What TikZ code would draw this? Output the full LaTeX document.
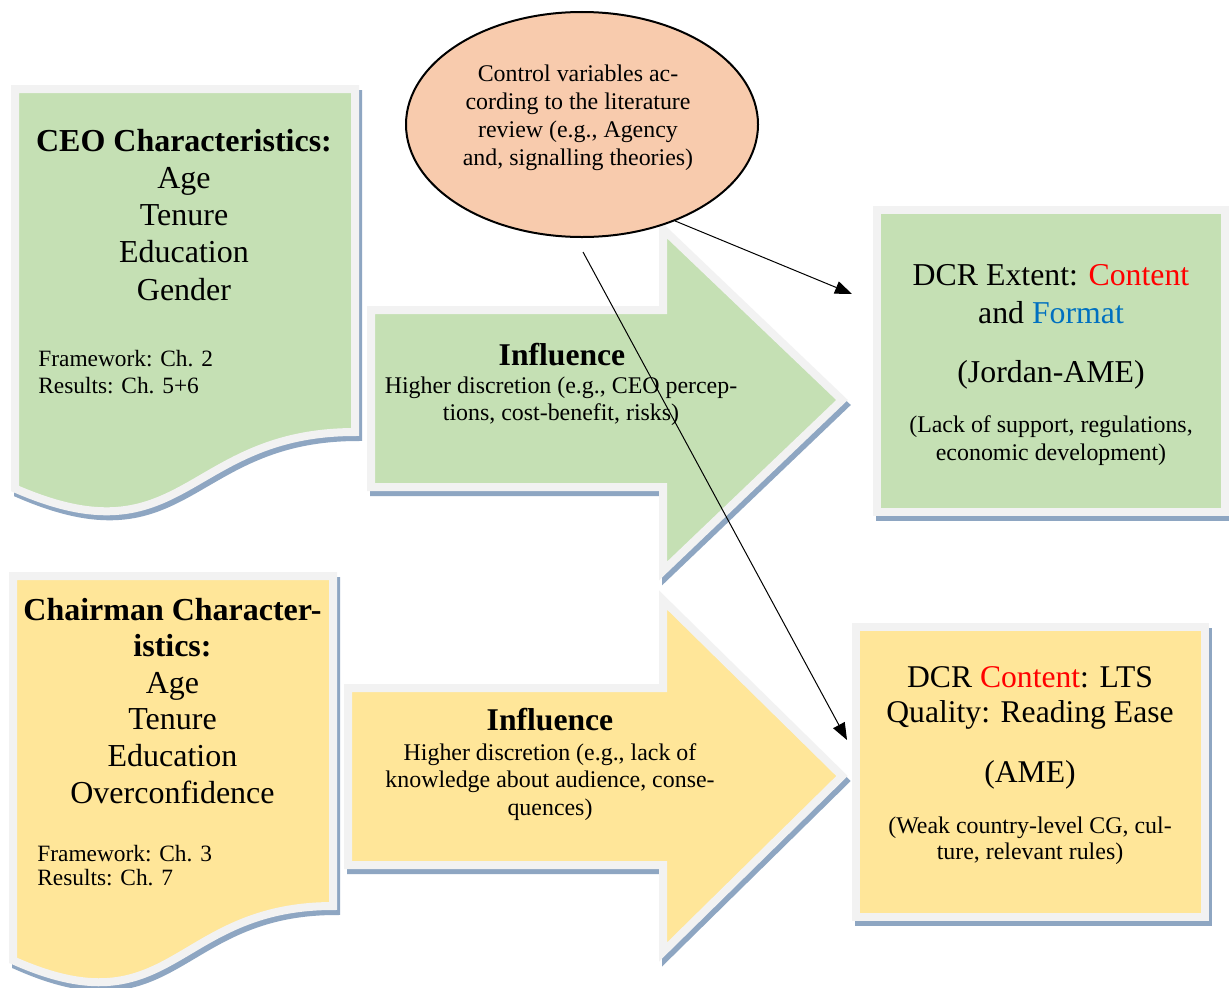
\documentclass[tikz,border=0pt]{standalone}
\usepackage{fontspec}
\setmainfont{Liberation Serif}
\usetikzlibrary{arrows.meta,shapes.geometric}

\definecolor{leafgreen}{HTML}{C5E0B4}
\definecolor{butter}{HTML}{FFE699}
\definecolor{rimgray}{HTML}{F2F2F2}
\definecolor{shadowblue}{HTML}{8EA6C2}
\definecolor{peach}{HTML}{F8CBAD}
\definecolor{hotred}{HTML}{FF0000}
\definecolor{ocean}{HTML}{0070C0}

\begin{document}
\begin{tikzpicture}[x=0.2mm,y=-0.2mm,
  rim/.style={draw=rimgray,line width=1.6mm,line join=miter},
  shade/.style={fill=shadowblue,draw=shadowblue,line width=1.6mm,shift={(3,5)}},
  txt/.style={inner sep=0pt,align=center},
  headf/.style={font=\fontsize{18}{18}\selectfont\bfseries},
  link/.style={line width=0.2mm,-{Triangle[length=3.4mm,width=2.6mm]}}]

\fill[white] (0,0) rectangle (1229,987);
\useasboundingbox (0,0) rectangle (1229,987);

% CEO document shape
\path[shade] (15,89) -- (355,89) -- (355,432) .. controls (185,432) and (185,562.7) .. (15,488.5) -- cycle;
\path[rim,fill=leafgreen] (15,89) -- (355,89) -- (355,432) .. controls (185,432) and (185,562.7) .. (15,488.5) -- cycle;

% Chairman document shape
\path[shade] (13,576) -- (333,576) -- (333,906) .. controls (173,906) and (173,1031.7) .. (13,960.3) -- cycle;
\path[rim,fill=butter] (13,576) -- (333,576) -- (333,906) .. controls (173,906) and (173,1031.7) .. (13,960.3) -- cycle;

% Block arrows
\path[shade] (371,310) -- (663,310) -- (663,229) -- (842,400) -- (663,571) -- (663,487) -- (371,487) -- cycle;
\path[rim,fill=leafgreen] (371,310) -- (663,310) -- (663,229) -- (842,400) -- (663,571) -- (663,487) -- (371,487) -- cycle;
\path[shade] (348,688) -- (663,688) -- (663,600) -- (842,776) -- (663,952) -- (663,865) -- (348,865) -- cycle;
\path[rim,fill=butter] (348,688) -- (663,688) -- (663,600) -- (842,776) -- (663,952) -- (663,865) -- (348,865) -- cycle;

% Outcome boxes
\path[shade] (877,210) rectangle (1225,512);
\path[rim,fill=leafgreen] (877,210) rectangle (1225,512);
\path[shade] (856,627) rectangle (1205,917);
\path[rim,fill=butter] (856,627) rectangle (1205,917);

% Control variables
\node[ellipse,draw=black,line width=0.4mm,fill=peach,minimum width=70.4mm,minimum height=45mm,inner sep=0pt] (ctrl) at (582,124.5) {};
% (multi-line nodes sit on the baseline of their last line)
\node[txt,anchor=base,font=\fontsize{13.6}{15.8}\selectfont] (ctrlT) at (578,165)
  {Control variables ac-\\cording to the literature\\review (e.g., Agency\\and, signalling theories)};

% CEO text
\node[txt,font=\fontsize{18.2}{21.06}\selectfont,anchor=base] (ceoT) at (184,300)
  {\textbf{CEO Characteristics:}\\Age\\Tenure\\Education\\Gender};
\node[txt,font=\fontsize{13.3}{15.2}\selectfont,align=left,anchor=base west] (ceoN) at (38,393)
  {Framework: Ch. 2\\Results: Ch. 5+6};

% Chairman text
\node[txt,font=\fontsize{18.2}{20.8}\selectfont,anchor=base] (chT) at (172.5,803)
  {\textbf{Chairman Character-}\\\textbf{istics:}\\Age\\Tenure\\Education\\Overconfidence};
\node[txt,font=\fontsize{13.3}{13.3}\selectfont,align=left,anchor=base west] (chN) at (37,885)
  {Framework: Ch. 3\\Results: Ch. 7};

% Arrow texts
\node[txt,headf,anchor=base] (inflA) at (562,365) {Influence};
\node[txt,font=\fontsize{13.6}{14.8}\selectfont,anchor=base] (inflAT) at (561,420)
  {Higher discretion (e.g., CEO percep-\\tions, cost-benefit, risks)};
\node[txt,headf,anchor=base] (inflB) at (550,730) {Influence};
\node[txt,font=\fontsize{13.6}{15.65}\selectfont,anchor=base] (inflBT) at (550,815)
  {Higher discretion (e.g., lack of\\knowledge about audience, conse-\\quences)};

% Outcome texts
\node[txt,font=\fontsize{18.1}{21.06}\selectfont,anchor=base] (dcrA) at (1051,323)
  {DCR Extent: \textcolor{hotred}{Content}\\and \textcolor{ocean}{Format}};
\node[txt,font=\fontsize{18.1}{21.06}\selectfont,anchor=base] (dcrAR) at (1051,382) {(Jordan-AME)};
\node[txt,font=\fontsize{13.6}{15.4}\selectfont,anchor=base] (dcrAN) at (1051,460)
  {(Lack of support, regulations,\\economic development)};
\node[txt,font=\fontsize{18}{19.9}\selectfont,anchor=base] (dcrB) at (1030,722)
  {DCR \textcolor{hotred}{Content}: LTS\\Quality: Reading Ease};
\node[txt,font=\fontsize{18}{19.9}\selectfont,anchor=base] (dcrBR) at (1030,782) {(AME)};
\node[txt,font=\fontsize{13.6}{14.8}\selectfont,anchor=base] (dcrBN) at (1030,859)
  {(Weak country-level CG, cul-\\ture, relevant rules)};

% Connectors from the control variables
\coordinate (tipA) at (852,294);
\coordinate (startB) at (583,252);
\coordinate (tipB) at (847,740);
\draw[link] (ctrl.-46) -- (tipA);
\draw[link] (startB) -- (tipB);
\end{tikzpicture}
\end{document}
